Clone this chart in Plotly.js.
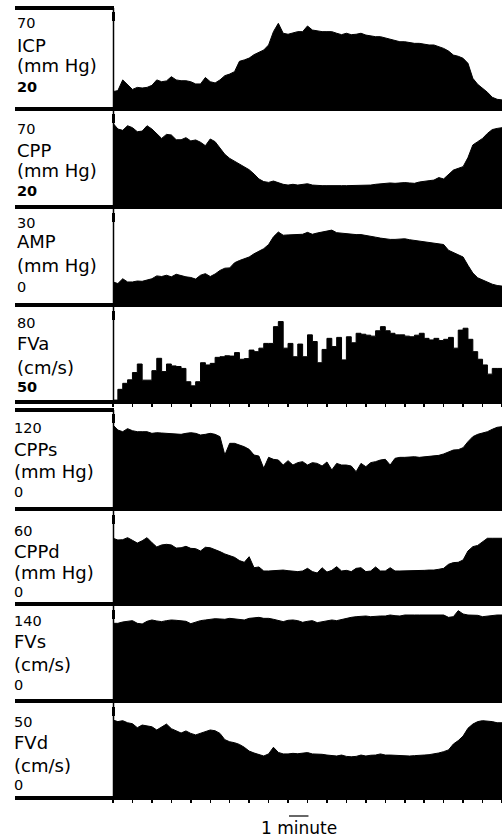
<!DOCTYPE html>
<html>
<head>
<meta charset="utf-8">
<script src="https://cdn.plot.ly/plotly-3.0.1.min.js"></script>
<style>html,body{margin:0;padding:0;background:#fff;}#chart{width:502px;height:840px;}</style>
</head>
<body>
<div id="chart"></div>
<script>
// time in minutes
const t = [0,0.25,0.5,0.75,1,1.25,1.5,1.75,2,2.25,2.5,2.75,3,3.25,3.5,3.75,4,4.25,4.5,4.75,5,5.25,5.5,5.75,6,6.25,6.5,6.75,7,7.25,7.5,7.75,8,8.25,8.5,8.75,9,9.25,9.5,9.75,10,10.25,10.5,10.75,11,11.25,11.5,11.75,12,12.25,12.5,12.75,13,13.25,13.5,13.75,14,14.25,14.5,14.75,15,15.25,15.5,15.75,16,16.25,16.5,16.75,17,17.25,17.5,17.75,18,18.25,18.5,18.75,19,19.25,19.5,19.75,20];

const icp = [28.6,29.1,34.4,31.9,29.7,30.7,30.4,30.7,31.7,34.4,33.5,33.9,36.0,34.4,34.0,34.0,33.5,32.4,32.4,35.6,33.5,32.9,34.4,36.5,37.3,38.5,43.6,44.3,45.2,46.9,48.2,49.2,51.7,58.3,62.4,57.5,57.0,57.5,58.3,58.3,61.1,59.1,58.6,58.3,58.3,58.3,57.5,56.8,57.5,56.8,57.0,57.5,56.6,56.1,55.8,55.8,55.1,54.5,54.0,53.3,53.3,52.8,52.5,52.5,52.0,51.7,51.7,51.0,50.0,48.7,46.7,46.1,45.1,42.6,35.2,32.2,30.2,28.3,25.8,24.8,24.5];
const cpp = [63.1,60.1,59.4,61.8,60.8,58.7,59.0,61.8,60.1,57.7,55.2,57.3,57.0,54.5,54.5,55.6,53.9,54.4,53.2,51.4,54.9,53.5,50.4,46.9,44.8,43.4,42.0,40.3,38.9,36.7,34.1,32.7,32.3,33.0,32.0,31.3,30.9,31.3,30.9,31.3,31.6,30.9,30.6,30.6,30.6,30.5,30.6,30.6,30.6,30.6,30.6,30.8,30.9,30.9,31.3,31.5,31.8,32.0,31.8,32.2,32.2,32.0,31.8,32.5,32.7,33.2,33.5,34.8,34.1,36.5,38.7,39.6,40.5,45.2,51.8,53.5,55.2,57.8,59.8,60.4,60.8];
const amp = [7.2,6.7,8.2,7.2,7.2,7.5,7.4,7.7,8.2,9.1,8.9,9.3,8.8,9.6,9.1,8.8,8.6,8.1,9.3,9.8,8.9,9.7,10.8,11.5,11.6,13.2,13.9,14.5,15.0,16.0,16.7,17.6,18.9,21.3,22.8,21.8,21.9,22.0,22.2,22.1,22.7,22.1,22.5,22.8,23.1,23.4,22.6,22.4,22.2,22.1,22.0,22.0,21.8,21.5,21.2,20.9,20.6,20.5,20.5,20.5,20.7,20.4,20.2,19.9,19.8,19.5,19.2,19.2,18.9,17.1,16.4,15.8,15.0,12.4,10.0,8.5,7.8,7.1,6.5,6.1,5.9];
const fva = [50.6,54.0,55.9,57.0,59.3,62.0,56.9,56.9,59.9,63.8,59.6,62.0,61.4,61.2,60.6,56.4,55.1,56.4,62.4,61.7,62.2,64.1,64.3,64.6,64.5,65.6,63.5,63.7,66.4,65.9,67.0,68.5,68.5,73.8,75.4,67.0,68.5,64.3,68.3,64.3,71.2,69.1,62.4,66.6,70.1,67.5,70.4,63.3,70.6,68.7,71.7,71.4,71.1,70.8,72.5,73.8,72.5,71.7,71.2,71.2,70.8,70.6,71.1,71.7,70.1,69.6,70.1,69.4,69.8,70.4,67.0,72.7,73.3,69.8,65.9,63.5,61.7,58.8,60.6,60.6,60.6];
const cpps = [101.8,95.7,93.7,97.4,94.9,93.7,93.7,93.7,91.7,92.5,92.1,91.7,91.7,90.9,90.5,91.7,92.5,91.7,89.7,90.5,91.7,90.5,87.7,65.4,79.6,79.6,77.6,75.5,72.3,65.4,64.2,49.3,62.6,60.2,59.4,53.3,58.6,53.3,56.2,57.4,53.3,56.2,55.3,52.1,57.0,47.3,55.3,53.3,53.3,52.1,45.2,55.3,51.3,56.2,57.4,59.4,60.2,53.3,61.4,62.6,62.6,63.0,63.4,62.6,63.0,63.4,64.2,65.0,66.7,69.1,71.5,71.9,74.3,81.6,87.7,90.5,91.7,93.7,96.6,99.0,99.8];
const cppd = [42.4,41.3,41.5,42.8,41.1,39.3,40.8,42.8,39.6,36.8,38.1,38.5,38.1,36.1,36.3,37.2,35.9,35.7,34.2,36.6,36.3,35.3,33.8,32.3,31.2,30.1,28.0,26.9,30.5,23.4,23.9,21.3,21.3,21.5,21.9,21.9,21.5,21.1,20.9,21.3,23.0,20.9,20.0,23.4,20.6,21.7,24.1,21.3,21.7,20.9,23.0,23.4,20.9,21.3,23.9,21.3,21.3,23.4,21.3,21.3,21.3,21.3,21.3,21.3,21.7,21.9,21.9,22.4,23.0,25.6,26.7,26.9,28.4,34.2,37.0,37.8,40.2,42.4,42.4,42.4,42.4];
const fvs = [114.2,114.2,116.2,116.7,118.2,114.2,113.2,117.2,119.2,117.7,116.7,118.2,119.2,118.7,118.2,117.2,113.7,116.2,118.2,119.2,120.2,121.1,120.7,120.2,121.6,120.7,120.2,119.2,121.6,122.6,123.1,121.6,121.6,120.2,118.2,116.7,118.7,119.2,118.2,115.7,117.2,118.2,115.2,116.2,118.2,119.2,118.2,120.2,121.6,123.1,124.1,124.6,125.1,124.1,125.1,125.1,125.1,126.6,125.6,125.1,126.6,126.1,126.6,126.6,126.6,126.1,126.1,126.6,126.6,123.1,124.1,133.1,128.1,126.6,126.6,126.1,124.1,125.1,126.1,126.6,126.6];
const fvd = [41.0,40.2,40.7,39.6,39.1,37.0,38.4,37.9,37.5,35.8,37.5,38.9,36.5,35.4,34.2,35.3,34.0,33.2,34.0,34.9,35.8,35.4,34.0,30.7,29.6,29.1,28.2,26.7,24.7,23.7,22.8,22.1,23.2,26.7,24.0,23.2,23.2,23.5,23.3,23.5,23.9,23.2,23.2,23.0,22.6,22.3,22.1,22.6,21.9,21.7,21.9,22.6,22.1,22.5,22.6,23.2,22.6,22.6,22.5,22.1,22.1,22.1,22.3,22.6,22.6,22.8,23.2,23.7,24.4,25.3,28.4,30.2,32.6,36.7,38.9,40.2,40.7,40.5,40.2,39.6,39.6];

const names = ["ICP","CPP","AMP","FVa","CPPs","CPPd","FVs","FVd"];
const units = ["(mm Hg)","(mm Hg)","(mm Hg)","(cm/s)","(mm Hg)","(mm Hg)","(cm/s)","(cm/s)"];
const topVals = [70,70,30,80,120,60,140,50];
const bottomVals = [20,20,0,50,0,0,0,0];
const series = [icp,cpp,amp,fva,cpps,cppd,fvs,fvd];
const scaleLabel = "1 minute";

// ---- layout geometry (pixels) ----
const W = 502, H = 840;
const X0 = 113;
const panelPx = [[8,109],[110,206],[209,305],[307,402],[410,509],[511,604],[606,700],[703,798]];
const labelPx = [[23,45,66,87],[129,150,171,191],[223,242,265,287],[323,343,367,387],[428,449,471,492],[531,551,572,592],[621,641,664,685],[722,742,765,785]];
const labelX = [15,15,15,15,12,12,12,12];
const boldBottom = [true,true,false,true,false,false,false,false];
const lineShape = ['linear','linear','linear','hv','linear','linear','linear','linear'];
const py = p => 1 - p / H;
const px = p => p / W;

const traces = [];
const layout = {
  width: W, height: H,
  margin: {l:0, r:0, t:0, b:0},
  paper_bgcolor: '#fff', plot_bgcolor: 'rgba(0,0,0,0)',
  showlegend: false,
  annotations: [], shapes: []
};
const FONT = "DejaVu Sans, Arial, sans-serif";

series.forEach((s, i) => {
  const k = i === 0 ? '' : String(i + 1);
  traces.push({
    x: t, y: s, xaxis: 'x' + k, yaxis: 'y' + k,
    type: 'scatter', mode: 'lines', fill: 'tozeroy',
    fillcolor: '#000', line: {color: '#000', width: 1, shape: lineShape[i]},
    hoverinfo: 'skip'
  });
  const withTicks = (i === 3 || i === 7);
  layout['xaxis' + k] = {
    domain: [px(X0), 1], range: [0, 20], anchor: 'y' + k,
    showgrid: false, zeroline: false, showline: false, showticklabels: false,
    ticks: withTicks ? 'outside' : '', ticklen: 4, tickwidth: 1.5, tickcolor: '#000',
    tick0: 0, dtick: 1, fixedrange: true
  };
  layout['yaxis' + k] = {
    domain: [py(panelPx[i][1]), py(panelPx[i][0])], range: [bottomVals[i], topVals[i]],
    anchor: 'x' + k, showgrid: false, zeroline: false, showline: false,
    showticklabels: false, ticks: '', fixedrange: true
  };
  const lp = labelPx[i];
  const txt = [String(topVals[i]), names[i], units[i], String(bottomVals[i])];
  const sizes = [14.5, 18, 18, 14.5];
  txt.forEach((tx, j) => {
    layout.annotations.push({
      xref: 'paper', yref: 'paper', x: px(labelX[i]), y: py(lp[j]),
      xanchor: 'left', yanchor: 'middle', showarrow: false,
      text: (j === 3 && boldBottom[i]) ? '<b>' + tx + '</b>' : tx,
      font: {family: FONT, size: sizes[j], color: '#000'}
    });
  });
  // vertical left border of the plot area
  layout.shapes.push({type: 'line', xref: 'paper', yref: 'paper',
    x0: px(X0 + 0.5), x1: px(X0 + 0.5), y0: py(panelPx[i][0]), y1: py(panelPx[i][1]),
    line: {color: '#000', width: 1.5}});
  // calibration mark
  layout.shapes.push({type: 'line', xref: 'paper', yref: 'paper',
    x0: px(X0 + 0.5), x1: px(X0 + 0.5), y0: py(panelPx[i][0] + 4), y1: py(panelPx[i][0] + 13),
    line: {color: '#000', width: 3}});
});

// thick horizontal separators
const sepFull = [109, 207, 305, 402, 509, 604, 701, 798];
const sepBox = [8, 410];
sepFull.forEach(p => layout.shapes.push({type: 'line', xref: 'paper', yref: 'paper',
  x0: px(15), x1: 1, y0: py(p), y1: py(p), line: {color: '#000', width: 4}}));
sepBox.forEach(p => layout.shapes.push({type: 'line', xref: 'paper', yref: 'paper',
  x0: px(15), x1: px(X0 + 1), y0: py(p), y1: py(p), line: {color: '#000', width: 4}}));

// 1 minute scale bar
layout.shapes.push({type: 'line', xref: 'x8', yref: 'paper', x0: 9.05, x1: 10.05,
  y0: py(816), y1: py(816), line: {color: '#000', width: 1.2}});
layout.annotations.push({xref: 'x8', yref: 'paper', x: 9.55, y: py(828),
  xanchor: 'center', yanchor: 'middle', showarrow: false, text: scaleLabel,
  font: {family: FONT, size: 17, color: '#000'}});

Plotly.newPlot('chart', traces, layout, {staticPlot: true, displayModeBar: false});
</script>
</body>
</html>
